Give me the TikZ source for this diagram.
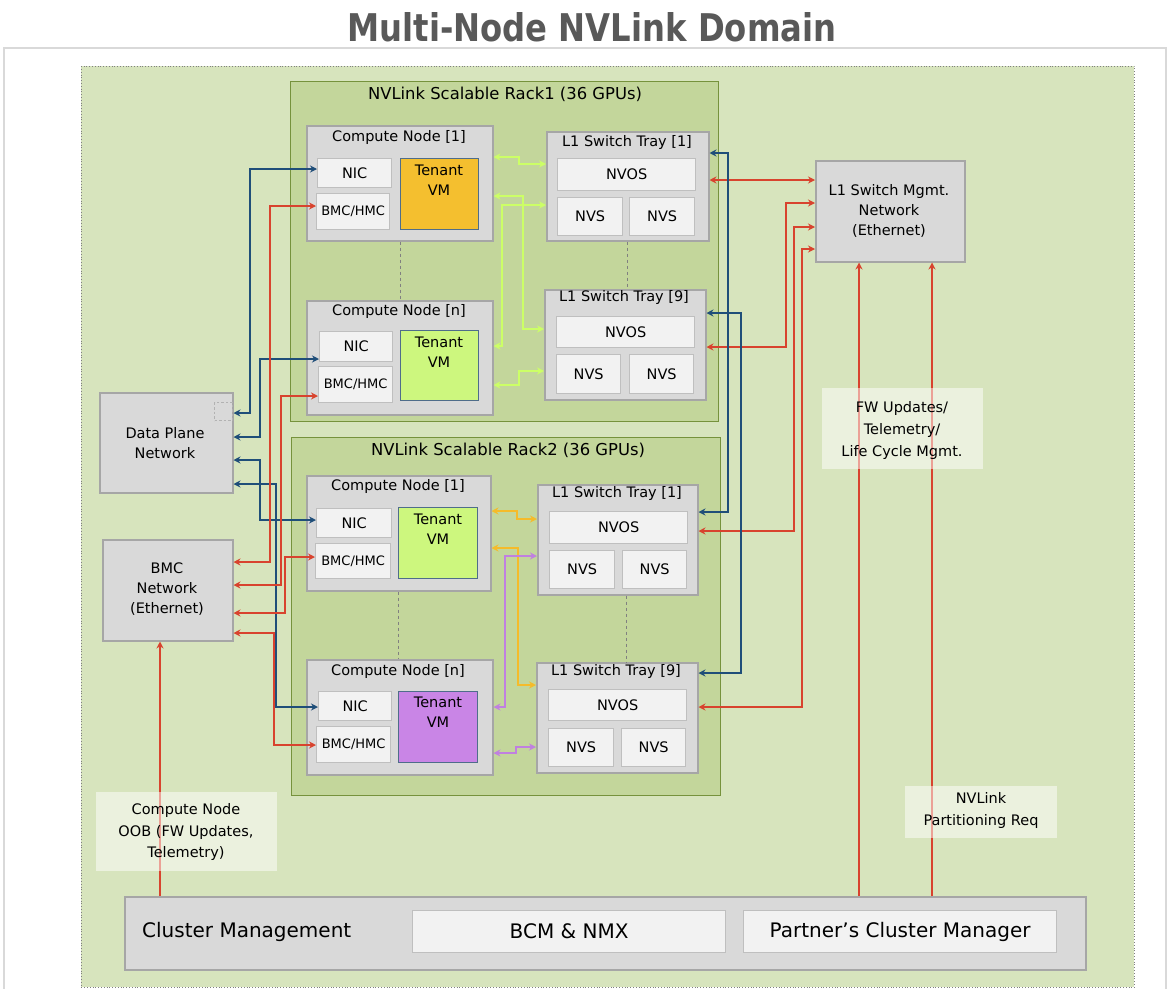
\documentclass[tikz,border=0pt]{standalone}
\usepackage{fontspec}
\setmainfont{DejaVu Sans}
\usetikzlibrary{arrows.meta}
\definecolor{cOuter}{HTML}{D7E4BD}
\definecolor{cRack}{HTML}{C3D69B}
\definecolor{cRackB}{HTML}{76923C}
\definecolor{cGray}{HTML}{D9D9D9}
\definecolor{cGrayB}{HTML}{A6A6A6}
\definecolor{cWhite}{HTML}{F2F2F2}
\definecolor{cWhiteB}{HTML}{BFBFBF}
\definecolor{cOrange}{HTML}{F4BF2F}
\definecolor{cLime}{HTML}{CDF77E}
\definecolor{cPurple}{HTML}{C985E6}
\definecolor{cVMB}{HTML}{4F6D8A}
\definecolor{cNavy}{HTML}{1F4E79}
\definecolor{cRed}{HTML}{D8432E}
\definecolor{cLimeL}{HTML}{CCFF66}
\definecolor{cYel}{HTML}{F5BB2A}
\definecolor{cPurL}{HTML}{C080E0}
\definecolor{cTitle}{HTML}{595959}
\newcommand\bx[6]{\node[#2, anchor=north west, minimum width={(#5-#3)*1pt}, minimum height={(#6-#4)*1pt}] (#1) at (#3,#4)}
\tikzset{
  graybox/.style={draw=cGrayB, fill=cGray, line width=1.5pt, inner sep=0pt},
  whitebox/.style={draw=cWhiteB, fill=cWhite, line width=1.3pt, inner sep=0pt},
  rackbox/.style={draw=cRackB, fill=cRack, line width=1pt, inner sep=0pt},
  vmbox/.style={draw=cVMB, line width=1pt, inner sep=0pt},
  txt/.style={inner sep=0pt, align=center},
  racktitle/.style={inner sep=0pt, align=center, font=\fontsize{16.4}{20}\selectfont},
  notebox/.style={fill=white, fill opacity=0.5, text opacity=1, inner sep=0pt, align=center},
  blueL/.style={cNavy, line width=1.3pt},
  blueR/.style={cNavy, line width=2.2pt},
  redL/.style={cRed, line width=1.2pt},
  limeL/.style={cLimeL, line width=2.2pt},
  yelL/.style={cYel, line width=2.4pt},
  purL/.style={cPurL, line width=2pt},
  dashL/.style={gray, line width=0.8pt, dash pattern=on 3pt off 3pt},
  >={Stealth[length=7pt,width=7pt]}
}
\begin{document}
\begin{tikzpicture}[x=1pt,y=-1pt,font=\fontsize{14.5}{20}\selectfont]
\useasboundingbox (0,0) rectangle (1170,988);
\fill[white] (0,0) rectangle (1170,988);
% title
\node[txt, text=cTitle] (title) at (592,27) {\resizebox{489pt}{29pt}{\bfseries Multi-Node NVLink Domain}};
% frame
\draw[gray!30, line width=1.5pt] (4,1000) -- (4,48) -- (1166,48) -- (1166,1000);
% outer green
\bx{domain}{draw=gray, fill=cOuter, line width=0.8pt, dotted}{81}{66}{1134}{987}{};
% racks
\bx{rack1}{rackbox}{290}{81}{718}{421}{};
\bx{rack2}{rackbox}{291}{437}{720}{795}{};
\node[racktitle] (rack1t) at (505,94) {NVLink Scalable Rack1 (36 GPUs)};
\node[racktitle] (rack2t) at (508,450) {NVLink Scalable Rack2 (36 GPUs)};

% ---- rack 1, compute node 1
\bx{r1cn1}{graybox}{306}{125}{492}{240}{};
\node[txt] (r1cn1t) at (399,137) {Compute Node [1]};
\bx{r1nic1}{whitebox}{317}{158}{391}{187}{NIC};
\bx{r1bmc1}{whitebox}{316}{193}{389}{229}{\fontsize{13}{16}\selectfont BMC/HMC};
\bx{r1vm1}{vmbox, fill=cOrange}{400}{158}{478}{229}{};
\node[txt] (r1vm1t) at (439,180) {Tenant\\VM};
% rack 1, compute node n
\bx{r1cnn}{graybox}{306}{300}{492}{414}{};
\node[txt] (r1cnnt) at (399,311) {Compute Node [n]};
\bx{r1nicn}{whitebox}{319}{331}{392}{361}{NIC};
\bx{r1bmcn}{whitebox}{318}{366}{392}{402}{\fontsize{13}{16}\selectfont BMC/HMC};
\bx{r1vmn}{vmbox, fill=cLime}{400}{330}{478}{400}{};
\node[txt] (r1vmnt) at (439,352) {Tenant\\VM};
% rack 1, switch tray 1
\bx{r1sw1}{graybox}{546}{131}{708}{240}{};
\node[txt] (r1sw1t) at (627,142) {L1 Switch Tray [1]};
\bx{r1nvos1}{whitebox}{557}{158}{695}{190}{NVOS};
\bx{r1nvsa1}{whitebox}{557}{197}{622}{235}{NVS};
\bx{r1nvsb1}{whitebox}{629}{197}{694}{235}{NVS};
% rack 1, switch tray 9
\bx{r1sw9}{graybox}{544}{289}{705}{399}{};
\node[txt] (r1sw9t) at (624,297) {L1 Switch Tray [9]};
\bx{r1nvos9}{whitebox}{556}{316}{694}{347}{NVOS};
\bx{r1nvsa9}{whitebox}{556}{354}{620}{393}{NVS};
\bx{r1nvsb9}{whitebox}{629}{354}{693}{393}{NVS};

% ---- rack 2, compute node 1
\bx{r2cn1}{graybox}{306}{475}{490}{590}{};
\node[txt] (r2cn1t) at (398,486) {Compute Node [1]};
\bx{r2nic1}{whitebox}{316}{508}{391}{537}{NIC};
\bx{r2bmc1}{whitebox}{315}{543}{390}{578}{\fontsize{13}{16}\selectfont BMC/HMC};
\bx{r2vm1}{vmbox, fill=cLime}{398}{507}{477}{578}{};
\node[txt] (r2vm1t) at (438,529) {Tenant\\VM};
% rack 2, compute node n
\bx{r2cnn}{graybox}{306}{659}{492}{774}{};
\node[txt] (r2cnnt) at (398,671) {Compute Node [n]};
\bx{r2nicn}{whitebox}{318}{691}{391}{720}{NIC};
\bx{r2bmcn}{whitebox}{316}{726}{390}{762}{\fontsize{13}{16}\selectfont BMC/HMC};
\bx{r2vmn}{vmbox, fill=cPurple}{398}{691}{477}{762}{};
\node[txt] (r2vmnt) at (438,712) {Tenant\\VM};
% rack 2, switch tray 1
\bx{r2sw1}{graybox}{537}{484}{697}{594}{};
\node[txt] (r2sw1t) at (617,493) {L1 Switch Tray [1]};
\bx{r2nvos1}{whitebox}{549}{511}{687}{543}{NVOS};
\bx{r2nvsa1}{whitebox}{549}{550}{614}{588}{NVS};
\bx{r2nvsb1}{whitebox}{622}{550}{686}{588}{NVS};
% rack 2, switch tray 9
\bx{r2sw9}{graybox}{536}{662}{697}{772}{};
\node[txt] (r2sw9t) at (616,671) {L1 Switch Tray [9]};
\bx{r2nvos9}{whitebox}{548}{689}{686}{720}{NVOS};
\bx{r2nvsa9}{whitebox}{548}{728}{613}{766}{NVS};
\bx{r2nvsb9}{whitebox}{621}{728}{685}{766}{NVS};

% dashed ellipsis lines
\draw[dashL] (r1cn1.south -| 400,0) -- (r1cnn.north -| 400,0);
\draw[dashL] (r1sw1.south -| 627,0) -- (r1sw9.north -| 627,0);
\draw[dashL] (r2cn1.south -| 398,0) -- (r2cnn.north -| 398,0);
\draw[dashL] (r2sw1.south -| 626,0) -- (r2sw9.north -| 626,0);

% ---- side networks
\bx{dpn}{graybox}{99}{392}{232}{492}{};
\node[txt] (dpnt) at (165,443) {Data Plane\\Network};
\bx{dpnsq}{draw=gray!60, line width=1.2pt, dash pattern=on 2.5pt off 2pt, inner sep=0pt}{214}{402}{232}{420}{};
\bx{bmcn}{graybox}{102}{539}{232}{640}{};
\node[txt] (bmcnt) at (167,589) {BMC\\Network\\(Ethernet)};
\bx{l1m}{graybox}{815}{160}{964}{261}{};
\node[txt] (l1mt) at (889,211) {L1 Switch Mgmt.\\Network\\(Ethernet)};

% ---- cluster management
\bx{cm}{graybox}{124}{896}{1085}{969}{};
\node[inner sep=0pt, anchor=west, font=\fontsize{20}{24}\selectfont] (cmt) at (142,932) {Cluster Management};
\bx{bcm}{whitebox, font=\fontsize{20}{24}\selectfont}{412}{910}{725}{952}{BCM \& NMX};
\bx{pcm}{whitebox, font=\fontsize{20}{24}\selectfont}{743}{910}{1056}{952}{Partner’s Cluster Manager};

% ---- blue (data plane) links, left
\draw[blueL,<->] (dpn.east |- 0,413) -| (250,169) -- (r1nic1.west |- 0,169);
\draw[blueL,<->] (dpn.east |- 0,437) -| (260,359) -- (r1nicn.west |- 0,359);
\draw[blueL,<->] (dpn.east |- 0,460) -| (260,520) -- (r2nic1.west |- 0,520);
\draw[blueL,<->] (dpn.east |- 0,484) -| (276,707) -- (r2nicn.west |- 0,707);
% ---- red (BMC) links, left
\draw[redL,<->] (bmcn.east |- 0,562) -| (270,206) -- (r1bmc1.west |- 0,206);
\draw[redL,<->] (bmcn.east |- 0,585) -| (281,396) -- (r1bmcn.west |- 0,396);
\draw[redL,<->] (bmcn.east |- 0,613) -| (285,557) -- (r2bmc1.west |- 0,557);
\draw[redL,<->] (bmcn.east |- 0,633) -| (274,745) -- (r2bmcn.west |- 0,745);
% ---- red (switch mgmt) links, right
\draw[redL,<->] (r1sw1.east |- 0,180) -- (l1m.west |- 0,180);
\draw[redL,<->] (l1m.west |- 0,203) -| (786,347) -- (r1sw9.east |- 0,347);
\draw[redL,<->] (l1m.west |- 0,227) -| (794,531) -- (r2sw1.east |- 0,531);
\draw[redL,<->] (l1m.west |- 0,249) -| (802,707) -- (r2sw9.east |- 0,707);
% ---- red from cluster management
\draw[redL,->] (cm.north -| 859,0) -- (l1m.south -| 859,0);
\draw[redL,->] (cm.north -| 932,0) -- (l1m.south -| 932,0);
\draw[redL,->] (cm.north -| 160,0) -- (bmcn.south -| 160,0);
% ---- blue (rack to rack) links, right
\draw[blueR,<->] (r1sw1.east |- 0,153) -| (728,512) -- (r2sw1.east |- 0,512);
\draw[blueR,<->] (r1sw9.east |- 0,313) -| (741,673) -- (r2sw9.east |- 0,673);
% ---- lime links rack 1
\draw[limeL,<->] (r1cn1.east |- 0,157) -- (519,157) -- (519,164) -- (r1sw1.west |- 0,164);
\draw[limeL,<->] (r1cn1.east |- 0,196) -| (523,329) -- (r1sw9.west |- 0,329);
\draw[limeL,<->] (r1sw1.west |- 0,205) -| (502,346) -- (r1cnn.east |- 0,346);
\draw[limeL,<->] (r1cnn.east |- 0,385) -- (519,385) -- (519,371) -- (r1sw9.west |- 0,371);
% ---- yellow / purple links rack 2
\draw[yelL,<->] (r2cn1.east |- 0,511) -- (517,511) -- (517,519) -- (r2sw1.west |- 0,519);
\draw[yelL,<->] (r2cn1.east |- 0,548) -| (518,685) -- (r2sw9.west |- 0,685);
\draw[purL,<->] (r2sw1.west |- 0,556) -| (505,707) -- (r2cnn.east |- 0,707);
\draw[purL,<->] (r2cnn.east |- 0,753) -- (516,753) -- (516,747) -- (r2sw9.west |- 0,747);

% ---- notes
\bx{fwbox}{notebox}{822}{388}{983}{469}{};
\node[txt, font=\fontsize{14.5}{22}\selectfont] (fwt) at (902,430) {FW Updates/\\Telemetry/\\Life Cycle Mgmt.};
\bx{oobbox}{notebox}{96}{792}{277}{871}{};
\node[txt, font=\fontsize{14.5}{21.5}\selectfont] (oobt) at (186,832) {Compute Node\\OOB (FW Updates,\\Telemetry)};
\bx{nvlbox}{notebox}{905}{786}{1057}{838}{};
\node[txt, font=\fontsize{14.5}{22}\selectfont] (nvlt) at (981,810) {NVLink\\Partitioning Req};
\end{tikzpicture}
\end{document}
